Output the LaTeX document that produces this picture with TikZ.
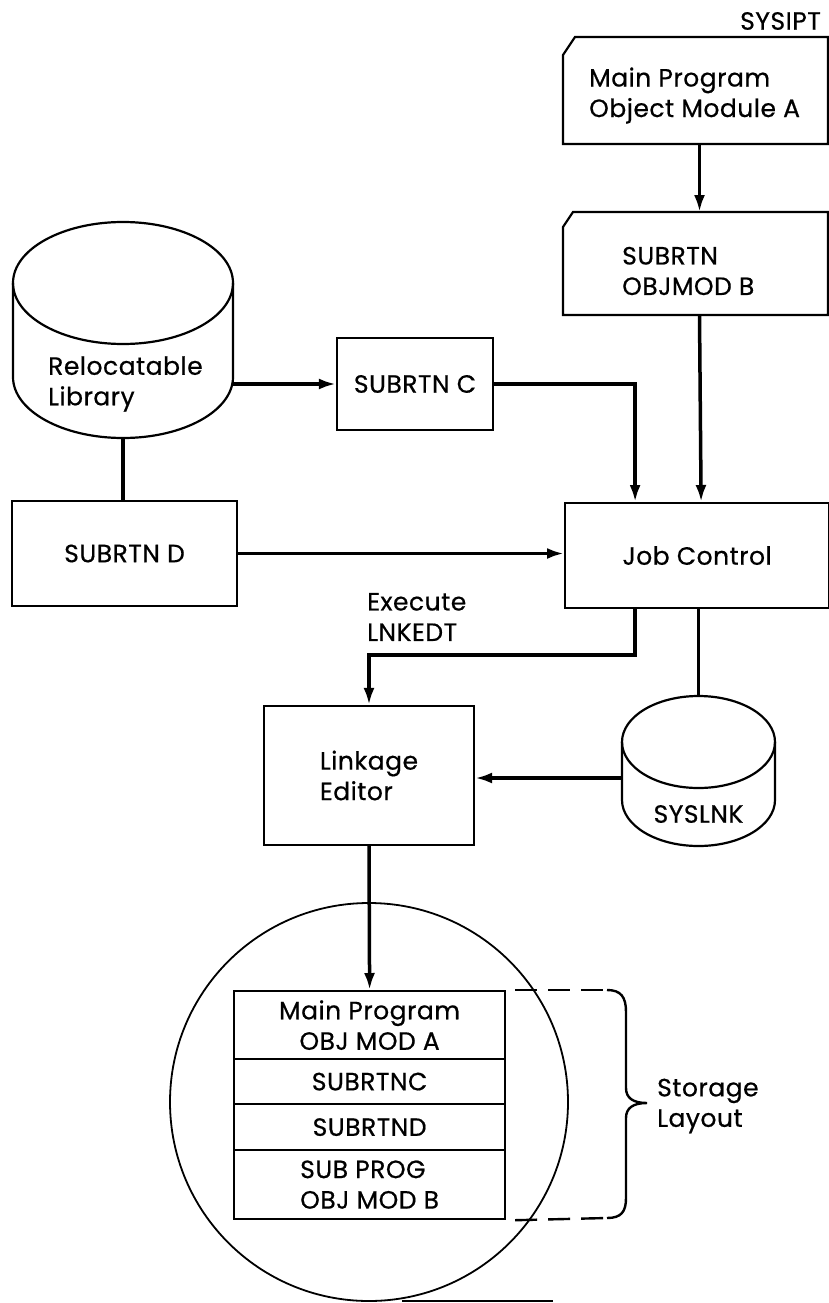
\documentclass[tikz,border=0pt]{standalone}
\usepackage{fontspec}
\setmainfont{Poppins}[FakeBold=0.6, LetterSpace=2]
\usetikzlibrary{arrows.meta,calc}
\begin{document}
\begin{tikzpicture}[x=1pt,y=-1pt,
  box/.style={draw, line width=2.2pt},
  conn/.style={line width=3.5pt},
  arr/.style={conn, -{Latex[length=17pt,width=11pt]}},
  lbl/.style={font=\fontsize{25}{30.5}\selectfont, inner sep=0pt, align=left},
  boxtext/.style={box, font=\fontsize{25}{30.5}\selectfont, inner sep=0pt, align=center},
  hidden/.style={inner sep=0pt, outer sep=0pt},
  dashline/.style={line width=2.4pt, dash pattern=on 22pt off 11pt},
]
\useasboundingbox (0,0) rectangle (829,1303);

% SYSIPT card (Main program)
\node[lbl, anchor=east] (sysipt) at (821,21) {SYSIPT};
\node[hidden, minimum width=265pt, minimum height=107pt, anchor=north west] (cardA) at (563,37) {};
\draw[box] ([xshift=12pt]cardA.north west) -- (cardA.north east) -- (cardA.south east)
  -- (cardA.south west) -- ([yshift=-18pt]cardA.north west) -- cycle;
\node[lbl, anchor=west] (cardAtxt) at (589,95.5) {Main Program\\Object Module A};

% SUBRTN OBJMOD B card
\node[hidden, minimum width=265pt, minimum height=103pt, anchor=north west] (cardB) at (563,212) {};
\draw[box] ([xshift=10pt]cardB.north west) -- (cardB.north east) -- (cardB.south east)
  -- (cardB.south west) -- ([yshift=-15pt]cardB.north west) -- cycle;
\node[lbl, anchor=west] (cardBtxt) at (622,271) {SUBRTN\\OBJMOD B};

% Job Control
\node[boxtext, minimum width=264pt, minimum height=105pt, anchor=north west] (jc) at (564,502) {Job Control};

% Relocatable Library cylinder
\node[hidden, minimum width=220pt, minimum height=216pt, anchor=north west] (lib) at (13,222) {};
\draw[box] (123,283) ellipse [x radius=110pt, y radius=61pt];
\draw[box] (13,283) -- (13,377) arc[start angle=180, end angle=360, x radius=110pt, y radius=61pt] -- (233,283);
\node[lbl, anchor=west] (libtxt) at (48,384) {Relocatable\\Library};

% SUBRTN C
\node[boxtext, minimum width=156pt, minimum height=92pt] (subc) at (415,384) {SUBRTN C};

% SUBRTN D
\node[boxtext, minimum width=225pt, minimum height=105pt] (subd) at (124.5,553.5) {SUBRTN D};

% Execute LNKEDT label
\node[lbl, anchor=west] (exe) at (367,617) {Execute\\LNKEDT};

% Linkage Editor
\node[boxtext, align=left, minimum width=210pt, minimum height=139pt] (link) at (369,775.5) {Linkage\\Editor};

% SYSLNK cylinder
\node[hidden, minimum width=153pt, minimum height=150pt, anchor=north west] (syslnk) at (622,696) {};
\draw[box] (698.5,742) ellipse [x radius=76.5pt, y radius=46pt];
\draw[box] (622,742) -- (622,800) arc[start angle=180, end angle=360, x radius=76.5pt, y radius=46pt] -- (775,742);
\node[lbl, anchor=center] (syslnktxt) at (698.5,814) {SYSLNK};

% Storage circle
\node[draw, circle, line width=1.8pt, minimum size=398pt, inner sep=0pt] (mem) at (369,1102) {};
\coordinate (bl1) at (402,1301);
\coordinate (bl2) at (553,1301);
\draw[line width=1.8pt] (bl1) -- (bl2);

% Storage table
\node[boxtext, minimum width=271pt, minimum height=68pt, anchor=north west] (row1) at (233,990) {Main Program\\OBJ MOD A};
\node[boxtext, minimum width=271pt, minimum height=45pt, anchor=north west] (row2) at (233,1058) {SUBRTNC};
\node[boxtext, minimum width=271pt, minimum height=46pt, anchor=north west] (row3) at (233,1103) {SUBRTND};
\node[boxtext, align=left, minimum width=271pt, minimum height=69pt, anchor=north west] (row4) at (233,1149) {SUB PROG\\OBJ MOD B};

% Brace
\coordinate (bt) at (607,990);
\coordinate (bb) at (607,1218);
\draw[dashline] ([xshift=9pt]row1.north east) -- (bt);
\draw[dashline] ([xshift=9pt]row4.south east) -- (bb);
\draw[line width=2.4pt] (bt) .. controls (621,990) and (626,997) .. (626,1012) -- (626,1088)
  .. controls (626,1098) and (633,1103) .. (647,1103)
  .. controls (633,1103) and (626,1108) .. (626,1118) -- (626,1198)
  .. controls (626,1212) and (621,1218) .. (bb);
\node[lbl, anchor=west] (stor) at (657,1106) {Storage\\Layout};

% Connectors
\draw[arr] ([xshift=4pt]cardA.south) -- ([xshift=4pt]cardB.north);
\draw[arr] ([xshift=4pt]cardB.south) -- ([xshift=4pt]jc.north);
\draw[arr] (lib.east |- subc) -- (subc.west);
\draw[arr] (subc.east) -| ([xshift=-62pt]jc.north);
\draw[conn] (lib.south) -- (lib.south |- subd.north);
\draw[arr] (subd.east) -- (subd.east -| jc.west);
\draw[arr] ([xshift=-62pt]jc.south) -- ++(0,46) -| (link.north);
\draw[conn] (syslnk.north |- jc.south) -- (syslnk.north);
\draw[arr] ([yshift=-7pt]syslnk.west) -- ([yshift=-7pt]syslnk.west -| link.east);
\draw[arr] (link.south) -- (row1.north);
\end{tikzpicture}
\end{document}
